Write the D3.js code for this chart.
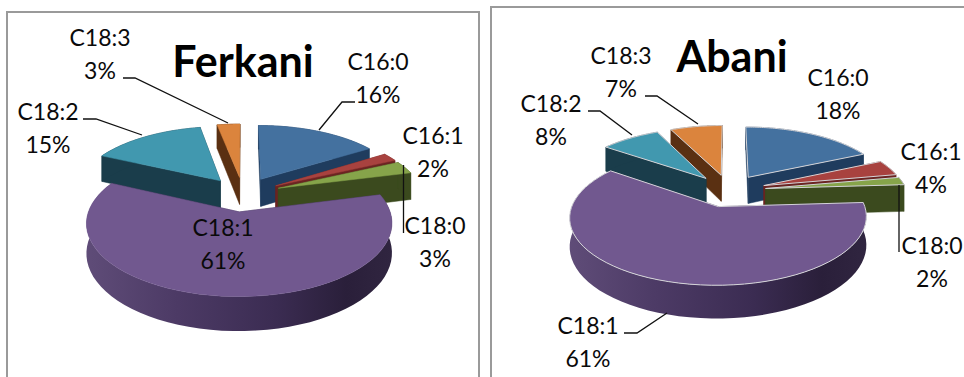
<!DOCTYPE html>
<html>
<head>
<meta charset="utf-8">
<style>
html,body{margin:0;padding:0;background:#fff;overflow:hidden}
svg{display:block}
text{font-family:Lato,"Open Sans",sans-serif;fill:#0a0a0a}
</style>
<script src="https://cdnjs.cloudflare.com/ajax/libs/d3/7.8.5/d3.min.js"></script>
</head>
<body>
<svg id="chart" width="964" height="377"></svg>
<script>
// Fatty-acid composition of the two sites
const categories = ["C16:0", "C16:1", "C18:0", "C18:1", "C18:2", "C18:3"];
const ferkaniValues = [16, 2, 3, 61, 15, 3];
const abaniValues = [18, 4, 2, 61, 8, 7];
const titles = ["Ferkani", "Abani"];

// Slice colours: top face, side face
const topColors = ["#44719f", "#a8423f", "#86a44a", "#71588f", "#4198af", "#db843d"];
const sideColors = ["#1f3c5e", "#6b2422", "#3b4a1e", null, "#1a3d4b", "#5a3012"];

// Geometry of each exploded pie and where its labels sit
const panels = [
  {
    title: titles[0], values: ferkaniValues, cx: 243, cy: 194, r: 145, tilt: 0.455,
    explode: 38, depth: 28, outline: "none",
    titleAt: [243, 77],
    labels: [[378, 86], [433, 160], [435, 250], [223, 252], [48, 136], [100, 62]],
    leaders: [
      [[355, 102], [342, 102], [319, 130]],
      null,
      [[403.5, 233], [403.5, 165]],
      null,
      [[83, 119], [96, 119], [142, 135]],
      [[123, 78], [135, 78], [228, 123]]
    ],
    frame: "M7,377V12H479V377"
  },
  {
    title: titles[1], values: abaniValues, cx: 729, cy: 190.5, r: 141, tilt: 0.436,
    explode: 37, depth: 27, outline: "#d4d4d8",
    titleAt: [732, 72],
    labels: [[838, 102], [931, 176], [932, 270], [588, 350], [551, 128], [621, 80]],
    leaders: [
      null,
      null,
      [[899, 252], [899, 185]],
      [[624, 333], [637, 333], [667, 313]],
      [[588, 111], [600, 111], [632, 135]],
      [[645, 96], [657, 96], [698, 124]]
    ],
    frame: "M491,377V7H964"
  }
];

const perspective = 0.15;
const svg = d3.select("#chart");
const defs = svg.append("defs");

// Shaded band running across the curved wall of the largest slice
const wallShade = defs.append("linearGradient").attr("id", "wallShade");
[[0, "#5f4c78"], [0.3, "#4c3a65"], [0.62, "#3b2c52"], [0.85, "#2a1f3a"], [1, "#302540"]]
  .forEach(([o, c]) => wallShade.append("stop").attr("offset", o).attr("stop-color", c));

const pieLayout = d3.pie().sort(null).value(d => d);
const lineGen = d3.line();

function drawPanel(p) {
  const g = svg.append("g");
  g.append("path").attr("d", p.frame).attr("fill", "none").attr("stroke", "#9a9a9a").attr("stroke-width", 2);

  // Ground-plane point to screen, nearer points being drawn larger
  const project = (X, Y, drop) => {
    const f = 1 / (1 - perspective * Y / p.r);
    return [p.cx + X * f, p.cy + (p.tilt * Y + drop) * f];
  };

  const arcs = pieLayout(p.values).map((a, i) => ({ ...a, i }));

  // Rear slices are painted first so nearer ones overlap them
  const depthOf = a => -Math.cos((a.startAngle + a.endAngle) / 2);
  arcs.slice().sort((a, b) => depthOf(a) - depthOf(b)).forEach(a => {
    const mid = (a.startAngle + a.endAngle) / 2;
    const ox = Math.sin(mid) * p.explode, oy = -Math.cos(mid) * p.explode;
    const rim = d3.range(0, 61).map(k => {
      const t = a.startAngle + (a.endAngle - a.startAngle) * k / 60;
      return [ox + Math.sin(t) * p.r, oy - Math.cos(t) * p.r];
    });
    const side = a.i === 3 ? "url(#wallShade)" : sideColors[a.i];
    const flatSide = a.i === 3 ? "#3b2c52" : sideColors[a.i];
    const at = (pt, d) => project(pt[0], pt[1], d);

    const tip = [ox, oy];
    const quad = (u, v) => [at(u, 0), at(v, 0), at(v, p.depth), at(u, p.depth)];
    const faces = [
      { pts: quad(tip, rim[0]), fill: flatSide, y: (tip[1] + rim[0][1]) / 2 },
      { pts: quad(tip, rim[60]), fill: flatSide, y: (tip[1] + rim[60][1]) / 2 },
      { pts: rim.map(q => at(q, 0)).concat(rim.slice().reverse().map(q => at(q, p.depth))), fill: side, y: oy + p.r * 0.4 }
    ].sort((m, n) => m.y - n.y);

    const slice = g.append("g");
    slice.selectAll("path.wall").data(faces).join("path")
      .attr("class", "wall")
      .attr("d", d => lineGen(d.pts) + "Z")
      .attr("fill", d => d.fill)
      .attr("stroke", d => d.fill === "url(#wallShade)" ? "none" : d.fill)
      .attr("stroke-width", 0.5);

    slice.append("path")
      .attr("d", lineGen([at(tip, 0)].concat(rim.map(q => at(q, 0)))) + "Z")
      .attr("fill", topColors[a.i])
      .attr("stroke", p.outline === "none" ? topColors[a.i] : p.outline)
      .attr("stroke-width", p.outline === "none" ? 0.5 : 1);
  });

  // Leader lines from the outer labels to their slices
  p.leaders.forEach(l => {
    if (l) g.append("path").attr("d", lineGen(l)).attr("fill", "none").attr("stroke", "#111").attr("stroke-width", 1.3);
  });

  // Category and percentage, stacked
  categories.forEach((c, i) => {
    const [x, y] = p.labels[i];
    const t = g.append("text").attr("text-anchor", "middle").attr("font-size", 23);
    t.append("tspan").attr("x", x).attr("y", y - 16).text(c);
    t.append("tspan").attr("x", x).attr("y", y + 17).text(p.values[i] + "%");
  });

  g.append("text")
    .attr("x", p.titleAt[0]).attr("y", p.titleAt[1])
    .attr("text-anchor", "middle").attr("font-size", 43).attr("font-weight", 700)
    .style("fill", "#000").text(p.title);
}

panels.forEach(drawPanel);
</script>
</body>
</html>
